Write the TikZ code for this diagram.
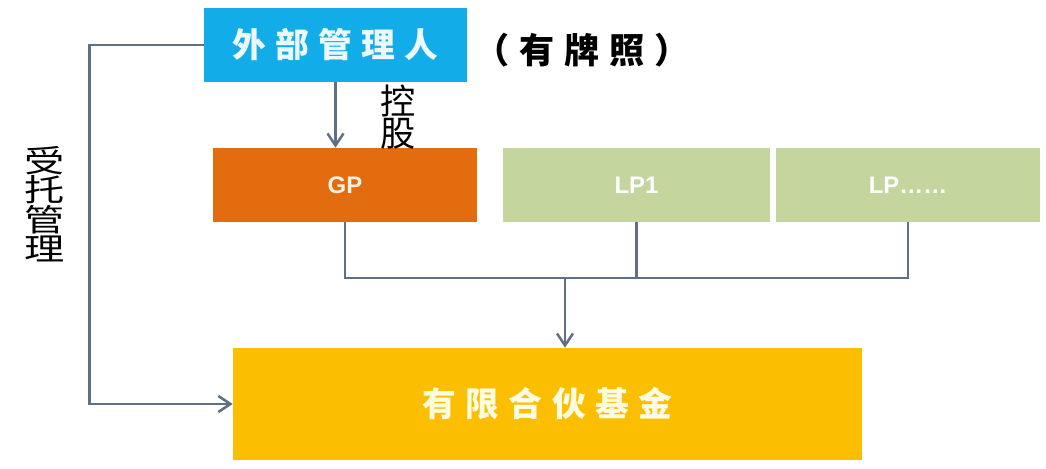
\documentclass[tikz,border=0pt]{standalone}
\usepackage{fontspec}
\setmainfont{Liberation Sans}
\newfontfamily\cjk{Noto Sans CJK SC}
\newfontfamily\cjkwide[LetterSpace=28]{Noto Sans CJK SC}
\usetikzlibrary{arrows.meta}
\definecolor{mgrblue}{RGB}{18,172,232}
\definecolor{gporange}{RGB}{226,108,14}
\definecolor{lpgreen}{RGB}{196,214,158}
\definecolor{fundamber}{RGB}{252,190,0}
\definecolor{linegray}{RGB}{96,112,132}

\begin{document}
\begin{tikzpicture}[x=0.025cm, y=-0.025cm,
  box/.style={minimum height=1.85cm, inner sep=0pt, text=white},
  conn/.style={draw=linegray, line width=1.8pt},
  tip/.style={-{Straight Barb[length=3mm,width=4mm]}}]
  \useasboundingbox (0,0) rectangle (1046,468);
  \node[box, fill=mgrblue, minimum width=6.575cm, text=cyan!8, font=\cjkwide\bfseries\fontsize{24}{26}\selectfont] (mgr) at (335.5,45) {外部管理人};
  \node[font=\cjkwide\bfseries\fontsize{25}{26}\selectfont] (licence) at (582,50) {（有牌照）};
  \node[box, fill=gporange, minimum width=6.6cm, text=orange!10, font=\bfseries\fontsize{17}{18}\selectfont] (gp) at (345,185) {GP};
  \node[box, fill=lpgreen, minimum width=6.675cm, font=\bfseries\fontsize{17}{18}\selectfont] (lp1) at (636.5,185) {LP1};
  \node[box, fill=lpgreen, minimum width=6.6cm, font=\bfseries\fontsize{17}{18}\selectfont] (lpn) at (908,185) {LP\ldots\ldots};
  \node[box, fill=fundamber, minimum width=15.725cm, minimum height=2.8cm, text=yellow!12, font=\cjkwide\bfseries\fontsize{24}{26}\selectfont] (fund) at (547.5,404) {有限合伙基金};
  \node[font=\cjk\fontsize{25}{23}\selectfont, align=center] (hold) at (398,117) {控\\股};
  \node[font=\cjk\fontsize{22}{23}\selectfont, align=center, xscale=1.3, transform shape] (trust) at (45,204) {受\\[-2pt]托\\[-2pt]管\\[-2pt]理};
  \coordinate (bus) at (565,278);
  \draw[conn, tip] (mgr.south) -- (mgr.south |- gp.north);
  \draw[conn] (gp.south) -- (gp.south |- bus) -- (lpn.south |- bus) -- (lpn.south);
  \draw[conn] (lp1.south) -- (lp1.south |- bus);
  \draw[conn, tip] (bus) -- (bus |- fund.north);
  \draw[conn, tip] (mgr.west) -- ++(-114,0) |- (fund.west);
\end{tikzpicture}
\end{document}
